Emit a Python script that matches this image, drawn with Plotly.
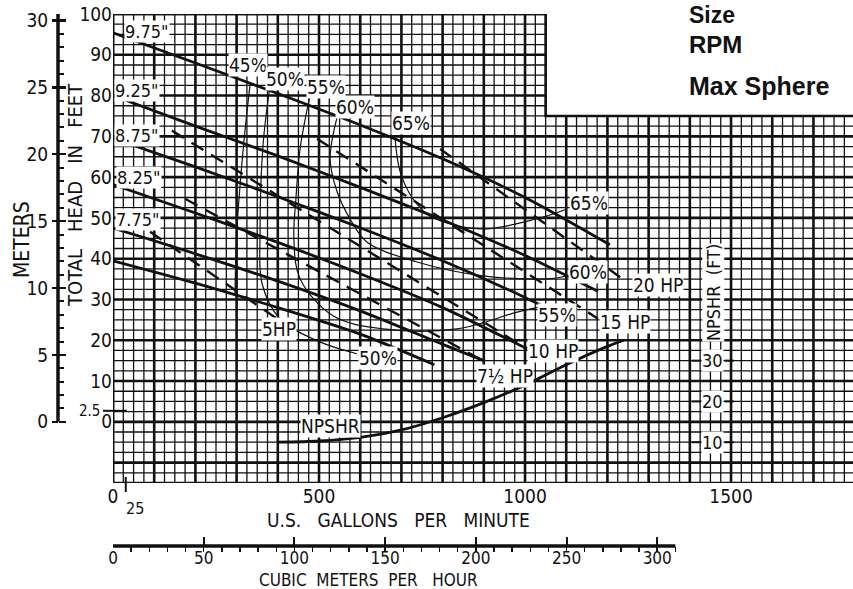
import plotly.graph_objects as go

# ---------------- data ----------------
# Impeller head curves: flow in US gpm, head in ft
imp_names = ['9.75"', '9.25"', '8.75"', '8.25"', '7.75"', '7.25"']
q_975 = [0, 200, 400, 600, 800, 1000, 1206]
h_975 = [95.4, 88.0, 80.5, 72.8, 64.5, 55.0, 43.4]
q_925 = [0, 200, 400, 600, 800, 1000, 1177]
h_925 = [80.0, 72.5, 65.2, 57.5, 49.5, 40.8, 32.0]
q_875 = [0, 200, 400, 600, 800, 1000, 1120]
h_875 = [69.5, 62.5, 55.2, 47.6, 39.5, 30.5, 24.5]
q_825 = [0, 200, 400, 600, 800, 1005]
h_825 = [58.2, 51.2, 44.0, 36.3, 28.0, 17.9]
q_775 = [0, 200, 400, 600, 800, 900]
h_775 = [47.5, 41.2, 34.5, 27.2, 19.0, 15.0]
q_725 = [0, 200, 400, 600, 780]
h_725 = [39.5, 34.0, 28.0, 21.5, 14.0]

# Brake horsepower lines (dashed)
hp_names = ["20 HP", "15 HP", "10 HP", "7½ HP", "5HP"]
q_hp20 = [794, 1243]
h_hp20 = [66.9, 34.6]
q_hp15 = [495, 1177]
h_hp15 = [69.4, 25.3]
q_hp10 = [143, 1005]
h_hp10 = [71.4, 17.9]
q_hp75 = [175, 898]
h_hp75 = [54.7, 15.0]
q_hp5 = [90, 398]
h_hp5 = [46.6, 25.3]

# Efficiency contours
eff_names = ["45%", "50%", "55%", "60%", "65%"]
q_e45 = [333, 316, 301, 296]
h_e45 = [83.0, 66.9, 47.3, 31.4]
q_e50 = [381, 364, 357, 362, 405, 502, 592]
h_e50 = [82.4, 67.7, 46.6, 33.8, 25.3, 19.6, 16.7]
q_e55 = [478, 454, 444, 439, 454, 534, 655, 835, 981, 1036]
h_e55 = [79.9, 66.9, 54.7, 44.9, 35.1, 26.0, 22.8, 22.8, 26.9, 28.2]
q_e60 = [546, 527, 544, 575, 616, 738, 898, 1061, 1109]
h_e60 = [75.5, 64.5, 56.4, 49.8, 44.1, 39.2, 35.8, 35.1, 36.0]
q_e65 = [684, 697, 728, 769, 891, 1029, 1102]
h_e65 = [70.1, 61.3, 54.7, 50.5, 47.3, 49.8, 52.2]

# NPSHR curve (ft, right-hand NPSHR scale)
q_npshr = [400, 500, 600, 700, 800, 900, 1000, 1100, 1200, 1240]
npshr = [10.0, 10.3, 11.2, 13.0, 16.0, 19.7, 24.0, 29.0, 33.5, 35.0]

# Axis ticks
gpm_ticks = [0, 500, 1000, 1500]
ft_ticks = list(range(0, 101, 10))
m_ticks = list(range(0, 31, 5))
m3h_ticks = list(range(0, 301, 50))
npshr_ticks = [10, 20, 30]

# ---------------- constants ----------------
GPM_MAX = 1796
FT_MIN, FT_MAX = -15, 100
STEP_GPM, STEP_FT = 1050, 75
M3H_PER_GPM = 0.22712
FT_PER_M = 3.28084
W, H = 853, 589
FONT = "Liberation Sans Narrow, DejaVu Sans Condensed, Arial Narrow, sans-serif"
INK = "#111111"


def px(x):
    return x / W


def py(y):
    return 1 - y / H


fig = go.Figure()

# ---------------- grid ----------------
minor_x, minor_y, major_x, major_y = [], [], [], []
q = 0
while q <= GPM_MAX:
    top = FT_MAX if q <= STEP_GPM else STEP_FT
    if q % 100 == 0:
        major_x += [q, q, None]; major_y += [FT_MIN, top, None]
    else:
        minor_x += [q, q, None]; minor_y += [FT_MIN, top, None]
    q += 25
k = 0
while FT_MIN + 2.5 * k <= FT_MAX:
    hh = FT_MIN + 2.5 * k
    right = GPM_MAX if hh <= STEP_FT else STEP_GPM
    if abs(hh % 10) < 1e-9:
        major_x += [0, right, None]; major_y += [hh, hh, None]
    else:
        minor_x += [0, right, None]; minor_y += [hh, hh, None]
    k += 1

fig.add_trace(go.Scatter(x=minor_x, y=minor_y, mode="lines",
                         line=dict(color=INK, width=1.3), hoverinfo="skip", showlegend=False))
fig.add_trace(go.Scatter(x=major_x, y=major_y, mode="lines",
                         line=dict(color=INK, width=2.6), hoverinfo="skip", showlegend=False))
fig.add_trace(go.Scatter(x=[GPM_MAX, 0, 0, STEP_GPM, STEP_GPM, GPM_MAX],
                         y=[FT_MIN, FT_MIN, FT_MAX, FT_MAX, STEP_FT, STEP_FT], mode="lines",
                         line=dict(color=INK, width=2.6), hoverinfo="skip", showlegend=False))

# ---------------- curves ----------------
for qq, hh in [(q_e45, h_e45), (q_e50, h_e50), (q_e55, h_e55), (q_e60, h_e60), (q_e65, h_e65)]:
    fig.add_trace(go.Scatter(x=qq, y=hh, mode="lines",
                             line=dict(color=INK, width=1.2, shape="spline", smoothing=1.0),
                             hoverinfo="skip", showlegend=False))

for qq, hh in [(q_hp20, h_hp20), (q_hp15, h_hp15), (q_hp10, h_hp10), (q_hp75, h_hp75), (q_hp5, h_hp5)]:
    fig.add_trace(go.Scatter(x=qq, y=hh, mode="lines",
                             line=dict(color=INK, width=2.4, dash="14px,9px"),
                             hoverinfo="skip", showlegend=False))

for qq, hh in [(q_975, h_975), (q_925, h_925), (q_875, h_875), (q_825, h_825), (q_775, h_775), (q_725, h_725)]:
    fig.add_trace(go.Scatter(x=qq, y=hh, mode="lines",
                             line=dict(color=INK, width=2.8, shape="spline", smoothing=0.8),
                             hoverinfo="skip", showlegend=False))

fig.add_trace(go.Scatter(x=q_npshr, y=npshr, yaxis="y2", mode="lines",
                         line=dict(color=INK, width=2.8, shape="spline", smoothing=0.8),
                         hoverinfo="skip", showlegend=False))

# ---------------- labels ----------------
ann = []


def lab(text, x, y, size=18, xref="x", yref="y", angle=0, bg="white", xanchor="center",
        yanchor="middle", family=FONT, bold=False):
    ann.append(dict(text=("<b>%s</b>" % text) if bold else text, x=x, y=y, xref=xref, yref=yref,
                    showarrow=False, textangle=angle, bgcolor=bg, borderpad=0,
                    xanchor=xanchor, yanchor=yanchor,
                    font=dict(family=family, size=size, color=INK)))


imp_pos = [(83, 95.6), (58, 81.2), (58, 70.1), (63, 59.8), (61, 49.5)]
for name, (x, y) in zip(imp_names[:5], imp_pos):
    lab(name, x, y, size=18)

eff_top = [(328, 87.5), (417, 84.1), (517, 82.1), (587, 77.2), (723, 73.3)]
for name, (x, y) in zip(eff_names, eff_top):
    lab(name, x, y, size=19)
eff_right = [("65%", 1155, 53.7), ("60%", 1153, 36.8), ("55%", 1078, 26.2), ("50%", 643, 15.7)]
for name, x, y in eff_right:
    lab(name, x, y, size=19)

hp_pos = [(1323, 33.6), (1243, 24.5), (1068, 17.4), (951, 11.3), (403, 22.8)]
for name, (x, y) in zip(hp_names, hp_pos):
    lab(name, x, y, size=19)

lab("NPSHR", 527, -1.0, size=19)
lab("NPSHR\u00a0 (FT)", 1456, 46.8, yref="y2", size=18, angle=-90)
for t in npshr_ticks:
    lab(str(t), 1456, t, yref="y2", size=18)

lab("2.5", px(89), 2.7, xref="paper", size=15, bg="rgba(0,0,0,0)")
lab("25", px(135), py(508), xref="paper", yref="paper", size=16, bg="rgba(0,0,0,0)")
lab("METERS", px(22), py(240), xref="paper", yref="paper", size=21, angle=-90, bg="rgba(0,0,0,0)")
lab("TOTAL\u00a0\u00a0 HEAD\u00a0\u00a0 IN\u00a0\u00a0 FEET", px(75), py(195), xref="paper", yref="paper",
    size=20, angle=-90, bg="rgba(0,0,0,0)")
lab("U.S.\u00a0\u00a0 GALLONS\u00a0\u00a0 PER\u00a0\u00a0 MINUTE", px(398), py(520), xref="paper",
    yref="paper", size=19, bg="rgba(0,0,0,0)")
lab("CUBIC\u00a0 METERS\u00a0 PER\u00a0\u00a0 HOUR", px(368), py(580), xref="paper",
    yref="paper", size=17, bg="rgba(0,0,0,0)")

TOPFONT = "Liberation Sans, Arial, sans-serif"
lab("Size", px(688), py(1), xref="paper", yref="paper", size=23, xanchor="left", yanchor="top",
    family=TOPFONT, bold=True, bg="rgba(0,0,0,0)")
lab("RPM", px(688), py(45), xref="paper", yref="paper", size=24, xanchor="left",
    family=TOPFONT, bold=True, bg="rgba(0,0,0,0)")
lab("Max Sphere", px(688), py(86), xref="paper", yref="paper", size=25, xanchor="left",
    family=TOPFONT, bold=True, bg="rgba(0,0,0,0)")

# ---------------- shapes (scale lines) ----------------
shapes = []
shapes.append(dict(type="line", xref="paper", yref="y3", x0=px(58), x1=px(58), y0=0, y1=30.5,
                   line=dict(color=INK, width=3.5)))
shapes.append(dict(type="line", xref="x2", yref="paper", x0=0, x1=310, y0=py(546), y1=py(546),
                   line=dict(color=INK, width=3.5)))
shapes.append(dict(type="line", xref="paper", yref="y", x0=px(103), x1=px(127), y0=2.7, y1=2.7,
                   line=dict(color=INK, width=2)))
shapes.append(dict(type="line", xref="x", yref="paper", x0=31, x1=31, y0=py(492), y1=py(477),
                   line=dict(color=INK, width=2)))
for t in npshr_ticks:
    shapes.append(dict(type="line", xref="x", yref="y2", x0=1405, x1=1428, y0=t, y1=t,
                       line=dict(color=INK, width=2)))
    shapes.append(dict(type="line", xref="x", yref="y2", x0=1484, x1=1507, y0=t, y1=t,
                       line=dict(color=INK, width=2)))

axis_font = dict(family=FONT, size=19, color=INK)
small_axis_font = dict(family=FONT, size=17, color=INK)

fig.update_layout(
    width=W, height=H,
    margin=dict(l=0, r=0, t=0, b=0, pad=0, autoexpand=False),
    paper_bgcolor="white", plot_bgcolor="white",
    showlegend=False,
    annotations=ann,
    shapes=shapes,
    xaxis=dict(domain=[px(113), 1], range=[0, GPM_MAX], showgrid=False, zeroline=False,
               showline=False, tickmode="array", tickvals=gpm_ticks, ticks="",
               tickfont=axis_font, automargin=False, fixedrange=True),
    xaxis2=dict(overlaying="x", anchor="free", position=py(546), side="bottom",
                range=[0, GPM_MAX * M3H_PER_GPM], showgrid=False, zeroline=False, showline=False,
                tickmode="array", tickvals=m3h_ticks, ticks="inside", ticklen=9, tickwidth=2,
                tickcolor=INK, tickfont=small_axis_font, automargin=False, fixedrange=True,
                minor=dict(tickmode="array", tickvals=list(range(0, 311, 10)), ticks="outside",
                           ticklen=5, tickwidth=1.5, tickcolor=INK)),
    yaxis=dict(domain=[py(483), py(14)], range=[FT_MIN, FT_MAX], showgrid=False, zeroline=False,
               showline=False, tickmode="array", tickvals=ft_ticks, ticks="",
               tickfont=axis_font, automargin=False, fixedrange=True),
    yaxis2=dict(overlaying="y", anchor="x", side="right", range=[0, FT_MAX - FT_MIN],
                showgrid=False, zeroline=False, showline=False, showticklabels=False, ticks="",
                automargin=False, fixedrange=True),
    yaxis3=dict(overlaying="y", anchor="free", position=px(58), side="left",
                range=[FT_MIN / FT_PER_M, FT_MAX / FT_PER_M], showgrid=False, zeroline=False,
                showline=False, tickmode="array", tickvals=m_ticks, ticks="outside", ticklen=6,
                tickwidth=2.5, tickcolor=INK, tickfont=axis_font, automargin=False,
                fixedrange=True,
                minor=dict(tickmode="array", tickvals=list(range(0, 31)), ticks="inside",
                           ticklen=5, tickwidth=2, tickcolor=INK)),
    yaxis4=dict(overlaying="y", anchor="free", position=px(58), side="left",
                range=[FT_MIN / FT_PER_M, FT_MAX / FT_PER_M], showgrid=False, zeroline=False,
                showline=False, showticklabels=False, tickmode="array", tickvals=m_ticks,
                ticks="inside", ticklen=7, tickwidth=2.5, tickcolor=INK, automargin=False,
                fixedrange=True),
)

fig.add_trace(go.Scatter(x=[0], y=[0], xaxis="x2", yaxis="y3", mode="markers",
                         marker=dict(opacity=0), hoverinfo="skip", showlegend=False))
fig.add_trace(go.Scatter(x=[0], y=[0], xaxis="x2", yaxis="y4", mode="markers",
                         marker=dict(opacity=0), hoverinfo="skip", showlegend=False))

fig.write_html("out.html", config={"displayModeBar": False, "staticPlot": True},
               post_script="document.body.style.margin='0px';document.body.style.padding='0px';")
